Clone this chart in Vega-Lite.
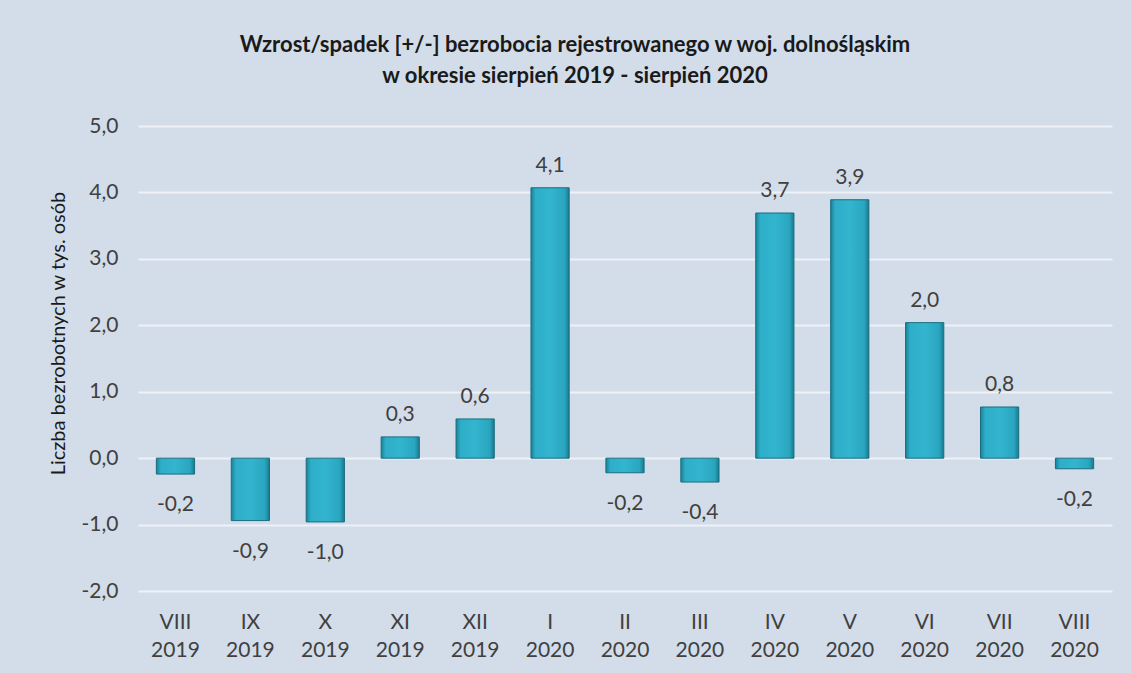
{
  "$schema": "https://vega.github.io/schema/vega-lite/v6.json",
  "autosize": {"type": "none"},
  "padding": {"left": 138, "top": 126, "right": 19, "bottom": 82},
  "width": 974,
  "height": 465,
  "background": "#d2dde9",
  "title": {
    "text": ["Wzrost/spadek [+/-] bezrobocia rejestrowanego w woj. dolnośląskim", "w okresie sierpień 2019 - sierpień 2020"],
    "font": "Lato",
    "fontSize": 22,
    "fontWeight": "bold",
    "color": "#1a1a1a",
    "lineHeight": 31,
    "anchor": "middle",
    "frame": "group",
    "dx": -50,
    "offset": 27
  },
  "config": {
    "locale": {"number": {"decimal": ",", "thousands": " ", "grouping": [3], "currency": ["", " zł"], "minus": "-"}},
    "view": {"stroke": null},
    "font": "Lato"
  },
  "data": {
    "values": [
      {"k": "VIII 2019", "v": -0.24},
      {"k": "IX 2019", "v": -0.94},
      {"k": "X 2019", "v": -0.96},
      {"k": "XI 2019", "v": 0.32},
      {"k": "XII 2019", "v": 0.59},
      {"k": "I 2020", "v": 4.07},
      {"k": "II 2020", "v": -0.22},
      {"k": "III 2020", "v": -0.36},
      {"k": "IV 2020", "v": 3.69},
      {"k": "V 2020", "v": 3.89},
      {"k": "VI 2020", "v": 2.04},
      {"k": "VII 2020", "v": 0.77},
      {"k": "VIII 2020", "v": -0.16}
    ]
  },
  "encoding": {
    "x": {
      "field": "k", "type": "nominal", "sort": null,
      "scale": {"paddingInner": 0.49, "paddingOuter": 0.245},
      "axis": {
        "title": null, "labelAngle": 0, "domain": false, "ticks": false,
        "labelExpr": "split(datum.label, ' ')",
        "labelFont": "Lato", "labelFontSize": 21, "labelColor": "#404040",
        "labelLineHeight": 28, "labelPadding": 20, "labelBaseline": "top"
      }
    }
  },
  "layer": [
    {
      "mark": {
        "type": "bar",
        "stroke": "#186d7e",
        "strokeWidth": 1,
        "fill": {
          "x1": 0, "y1": 0, "x2": 1, "y2": 0,
          "gradient": "linear",
          "stops": [
            {"offset": 0, "color": "#1b8196"},
            {"offset": 0.12, "color": "#2eaec8"},
            {"offset": 0.5, "color": "#33b5cf"},
            {"offset": 0.88, "color": "#2aa5bf"},
            {"offset": 1, "color": "#197a8e"}
          ]
        }
      },
      "encoding": {
        "y": {
          "field": "v", "type": "quantitative",
          "scale": {"domain": [-2, 5], "nice": false},
          "axis": {
            "title": "Liczba bezrobotnych w tys. osób",
            "titleFont": "Lato", "titleFontSize": 20, "titleFontWeight": "normal", "titleColor": "#1a1a1a",
            "titleX": -80, "titleY": 207, "titleAngle": -90, "titleAlign": "center", "titleBaseline": "middle",
            "values": [-2, -1, 0, 1, 2, 3, 4, 5],
            "format": ".1f",
            "domain": false, "ticks": false,
            "labelFont": "Lato", "labelFontSize": 21, "labelColor": "#404040", "labelPadding": 20,
            "gridColor": "#eef2f7", "gridWidth": 2
          }
        }
      }
    },
    {
      "transform": [{"filter": "datum.v >= 0"}],
      "mark": {"type": "text", "font": "Lato", "fontSize": 21, "color": "#404040", "baseline": "alphabetic", "dy": -16},
      "encoding": {
        "y": {"field": "v", "type": "quantitative"},
        "text": {"field": "v", "type": "quantitative", "format": ".1f"}
      }
    },
    {
      "transform": [{"filter": "datum.v < 0"}],
      "mark": {"type": "text", "font": "Lato", "fontSize": 21, "color": "#404040", "baseline": "alphabetic", "dy": 37},
      "encoding": {
        "y": {"field": "v", "type": "quantitative"},
        "text": {"field": "v", "type": "quantitative", "format": ".1f"}
      }
    }
  ]
}
